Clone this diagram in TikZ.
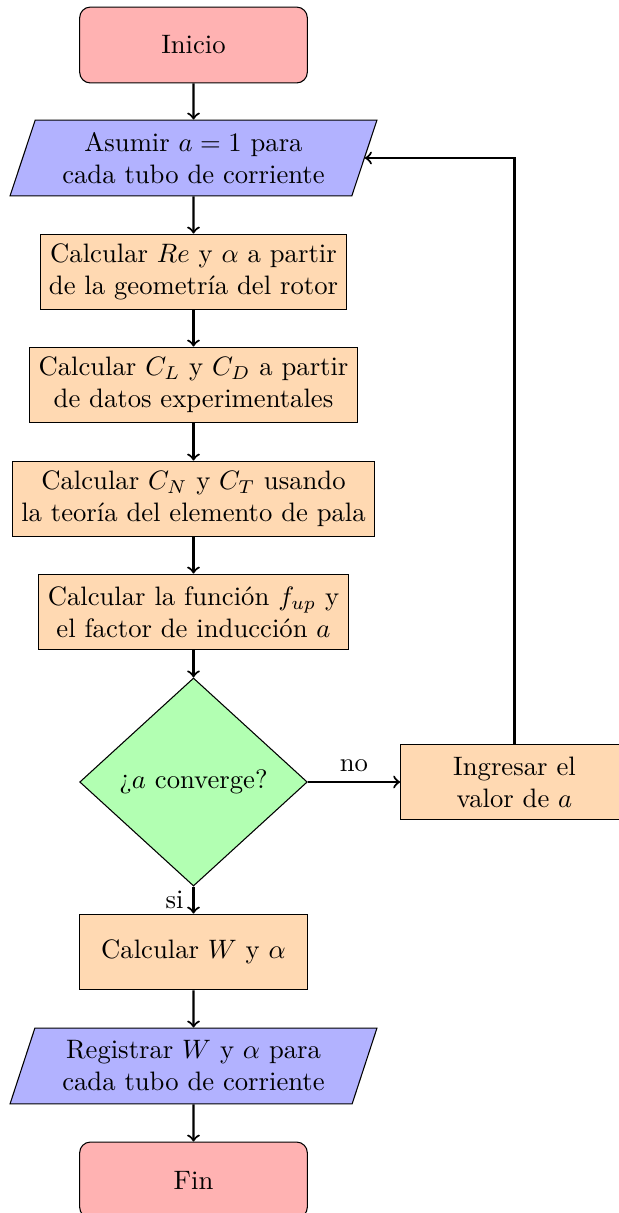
\documentclass[tikz,border=0pt]{standalone}
\usetikzlibrary{shapes.geometric,arrows}
\begin{document}
\begin{tikzpicture}[x=0.375pt,y=-0.375pt,
  startstop/.style={rectangle, rounded corners=4pt, minimum width=3cm, minimum height=1cm, align=center, draw=black, fill=red!30},
  io/.style={trapezium, trapezium left angle=70, trapezium right angle=110, trapezium stretches body, minimum width=137.6pt, minimum height=1cm, align=center, draw=black, fill=blue!30},
  process/.style={rectangle, minimum width=3cm, minimum height=1cm, align=center, draw=black, fill=orange!30},
  decision/.style={diamond, minimum width=3cm, minimum height=1cm, align=center, draw=black, fill=green!30},
  conn/.style={thick,->}]
\useasboundingbox (0,0) rectangle (619,1213);
\node[startstop] (start) at (193.5,45) {Inicio};
\node[io] (in1) at (193.5,158) {Asumir $a=1$ para\\cada tubo de corriente};
\node[process] (pro1) at (193.5,272) {Calcular $Re$ y $\alpha$ a partir\\de la geometría del rotor};
\node[process] (pro2) at (193.5,385) {Calcular $C_L$ y $C_D$ a partir\\de datos experimentales};
\node[process] (pro3) at (193.5,499) {Calcular $C_N$ y $C_T$ usando\\la teoría del elemento de pala};
\node[process] (pro4) at (193.5,612) {Calcular la función $f_{up}$ y\\el factor de inducción $a$};
\node[decision] (dec1) at (193.5,782) {¿$a$ converge?};
\node[process] (pro6) at (514.5,782) {Ingresar el\\valor de $a$};
\node[process] (pro5) at (193.5,952) {Calcular $W$ y $\alpha$};
\node[io] (out1) at (193.5,1066) {Registrar $W$ y $\alpha$ para\\cada tubo de corriente};
\node[startstop] (stop) at (193.5,1180) {Fin};
\draw[conn] (start) -- (in1);
\draw[conn] (in1) -- (pro1);
\draw[conn] (pro1) -- (pro2);
\draw[conn] (pro2) -- (pro3);
\draw[conn] (pro3) -- (pro4);
\draw[conn] (pro4) -- (dec1);
\draw[conn] (dec1) -- node[above] {no} (pro6);
\draw[conn] (dec1) -- node[left] {si} (pro5);
\draw[conn] (pro6.north) |- (in1.east);
\draw[conn] (pro5) -- (out1);
\draw[conn] (out1) -- (stop);
\end{tikzpicture}
\end{document}
